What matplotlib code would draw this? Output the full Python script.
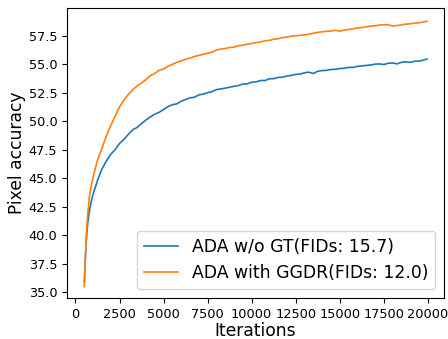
import matplotlib
matplotlib.use('Agg')
import matplotlib.pyplot as plt

# iterations (x axis)
iterations = [500, 550, 600, 650, 700, 800, 900, 1000] + list(range(1250, 20000, 250)) + [19950]

# ADA w/o GT
acc_wo_gt = [35.9, 37.6, 39.2, 40.3, 41.1, 42.2, 43.0, 43.6,
             44.8, 45.8, 46.5, 47.1, 47.5, 48.05, 48.4, 48.85, 49.25, 49.45,
             49.8, 50.1, 50.38, 50.62, 50.78, 51.02, 51.28, 51.45, 51.52, 51.75,
             51.9, 52.05, 52.1, 52.3, 52.38, 52.5, 52.6, 52.77, 52.83, 52.9,
             52.98, 53.06, 53.13, 53.26, 53.27, 53.42, 53.45, 53.57, 53.56, 53.72,
             53.73, 53.84, 53.86, 53.96, 54.02, 54.1, 54.14, 54.24, 54.3, 54.18,
             54.38, 54.44, 54.46, 54.54, 54.55, 54.62, 54.64, 54.72, 54.71, 54.81,
             54.85, 54.89, 54.93, 55.0, 55.02, 54.97, 55.08, 55.11, 55.03, 55.16,
             55.21, 55.16, 55.26, 55.27, 55.36,
             55.45]

# ADA with GGDR
acc_ggdr = [35.5, 37.5, 39.5, 40.9, 41.9, 43.5, 44.4, 45.1,
            46.6, 47.6, 48.7, 49.6, 50.45, 51.25, 51.85, 52.35, 52.75, 53.1,
            53.35, 53.65, 54.0, 54.18, 54.47, 54.58, 54.82, 54.98, 55.17, 55.28,
            55.44, 55.53, 55.67, 55.78, 55.86, 55.96, 56.05, 56.24, 56.32, 56.37,
            56.46, 56.5, 56.61, 56.67, 56.75, 56.81, 56.9, 56.94, 57.06, 57.09,
            57.19, 57.23, 57.33, 57.37, 57.47, 57.49, 57.53, 57.58, 57.63, 57.71,
            57.79, 57.84, 57.88, 57.91, 57.97, 57.9, 57.98, 58.04, 58.11, 58.17,
            58.22, 58.27, 58.34, 58.37, 58.43, 58.46, 58.46, 58.34, 58.39, 58.44,
            58.51, 58.54, 58.61, 58.63, 58.7,
            58.75]

fig = plt.figure(figsize=(4.48, 3.39), dpi=100)
ax = fig.add_axes([0.1496, 0.121, 0.8415, 0.8545])

ax.plot(iterations, acc_wo_gt, color='#1f77b4', lw=1.2, label='ADA w/o GT(FIDs: 15.7)')
ax.plot(iterations, acc_ggdr, color='#ff7f0e', lw=1.2, label='ADA with GGDR(FIDs: 12.0)')

ax.set_xlim(-480, 20920)
ax.set_ylim(34.5, 59.9)
ax.set_xticks(range(0, 20001, 2500))
ax.set_yticks([35.0, 37.5, 40.0, 42.5, 45.0, 47.5, 50.0, 52.5, 55.0, 57.5])
ax.tick_params(labelsize=9.3)
ax.set_xlabel('Iterations', fontsize=12.3, labelpad=1)
ax.set_ylabel('Pixel accuracy', fontsize=12.3, labelpad=2)
ax.legend(loc='lower right', fontsize=12.4)

fig.savefig('out.png', dpi=100)
